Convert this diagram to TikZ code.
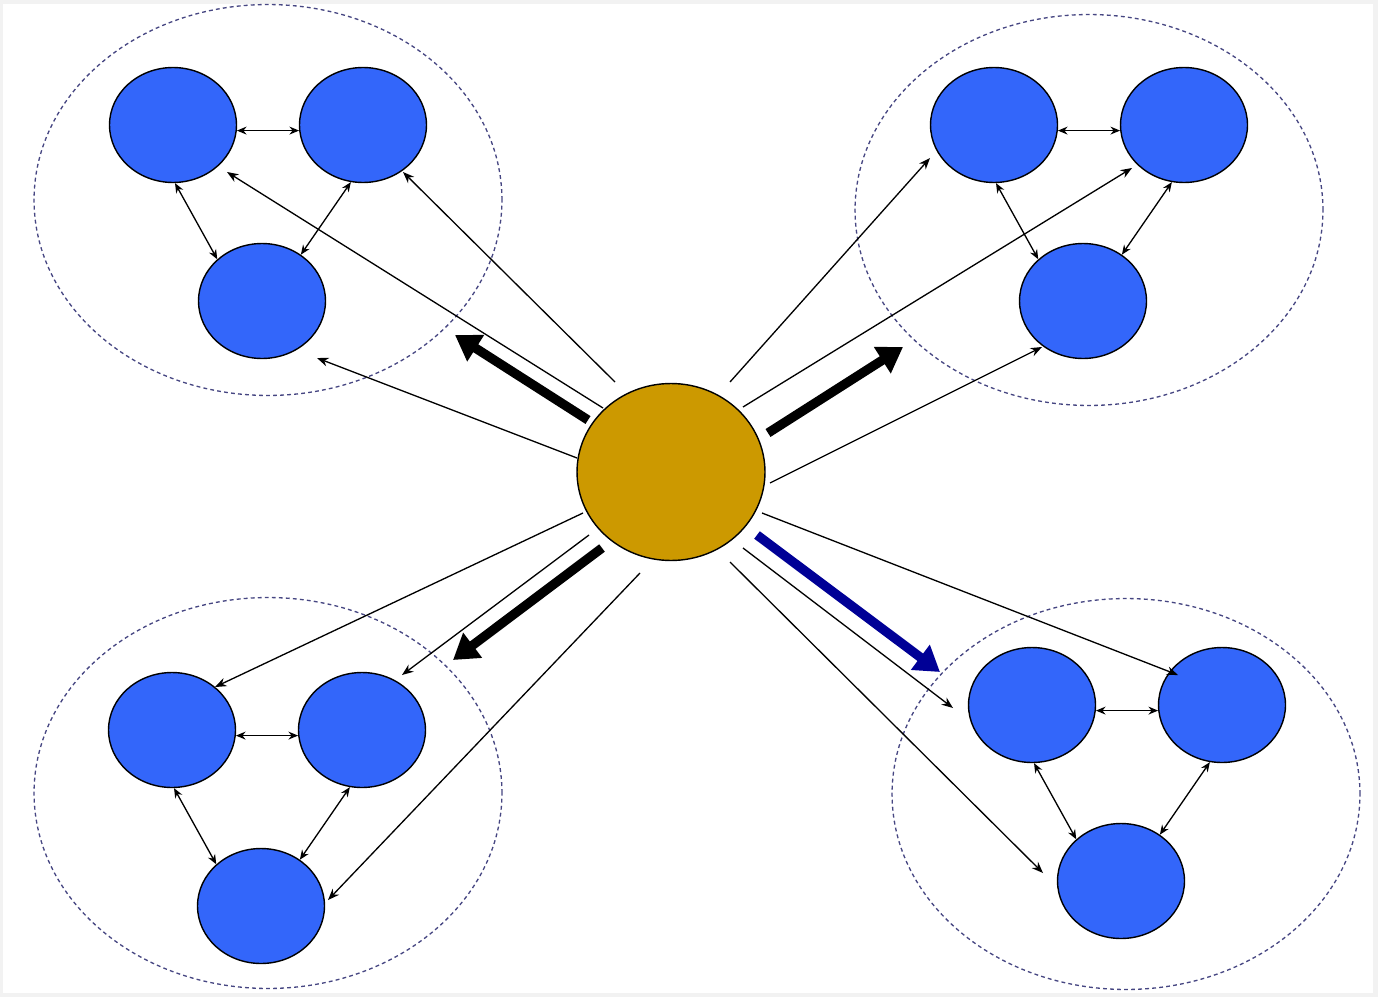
\documentclass[tikz,border=0pt]{standalone}
\usetikzlibrary{shapes.geometric,arrows.meta}
\definecolor{peerblue}{RGB}{51,102,250}
\definecolor{hubgold}{RGB}{204,153,0}
\definecolor{navyarrow}{RGB}{0,0,150}
\definecolor{ringblue}{RGB}{70,70,130}
\begin{document}
\begin{tikzpicture}[x=0.02cm,y=-0.02cm,
  peer/.style={ellipse,draw,fill=peerblue,line width=0.8pt,minimum width=2.54cm,minimum height=2.3cm,inner sep=0pt},
  ring/.style={ellipse,draw=ringblue,dash pattern=on 2.2pt off 1.8pt,line width=0.75pt,minimum width=9.36cm,minimum height=7.82cm,inner sep=0pt},
  hub/.style={ellipse,draw,fill=hubgold,line width=0.8pt,minimum width=3.76cm,minimum height=3.54cm,inner sep=0pt},
  link/.style={line width=0.75pt,-{Stealth[length=6.5pt,width=5pt]}},
  duo/.style={line width=0.75pt,{Stealth[length=5.5pt,width=4.5pt]}-{Stealth[length=5.5pt,width=4.5pt]}},
  push/.style={line width=5.3pt,-{Triangle[length=14pt,width=17pt]}}]
\fill[gray!10] (0,0) rectangle (1378,997);
\fill[white] (3,4) rectangle (1373,993);
\useasboundingbox (0,0) rectangle (1378,997);
% four groups of three peers
\foreach \g/\ex/\ey/\ax/\ay in {tl/268/200/173/125, tr/1089/210/994/125, bl/268/793/172/730, br/1126/794/1032/705} {
  \node[ring] (\g-ring) at (\ex,\ey) {};
  \node[peer] (\g-a) at (\ax,\ay) {};
  \node[peer] (\g-b) at ({\ax+190},\ay) {};
  \node[peer] (\g-c) at ({\ax+89},{\ay+176}) {};
  \draw[duo] (\g-a.-5) -- (\g-b.185);
  \draw[duo] (\g-a.-88) -- (\g-c.137);
  \draw[duo] (\g-b.-102) -- (\g-c.50);
}
\node[hub] (hub) at (671,472) {};
% thin links from the hub to each peer
\foreach \i/\sx/\sy/\tx/\ty in {1/603/408/227/172, 2/615/382/403/172, 3/577/458/317/358,
  4/730/382/930/158, 5/743/407/1132/168, 6/770/483/1042/347,
  7/583/513/215/687, 8/589/535/402/675, 9/640/573/328/900,
  10/762/513/1178/675, 11/743/548/953/708, 12/730/562/1043/873} {
  \coordinate (f\i) at (\sx,\sy); \coordinate (t\i) at (\tx,\ty);
  \draw[link] (f\i) -- (t\i);
}
% thick arrows towards the groups
\foreach \i/\sx/\sy/\tx/\ty/\c in {1/588/420/455/335/black, 2/768/433/903/347/black,
  3/602/548/453/660/black, 4/757/535/940/672/navyarrow} {
  \coordinate (p\i) at (\sx,\sy); \coordinate (q\i) at (\tx,\ty);
  \draw[push,draw=\c,fill=\c] (p\i) -- (q\i);
}
\end{tikzpicture}
\end{document}
